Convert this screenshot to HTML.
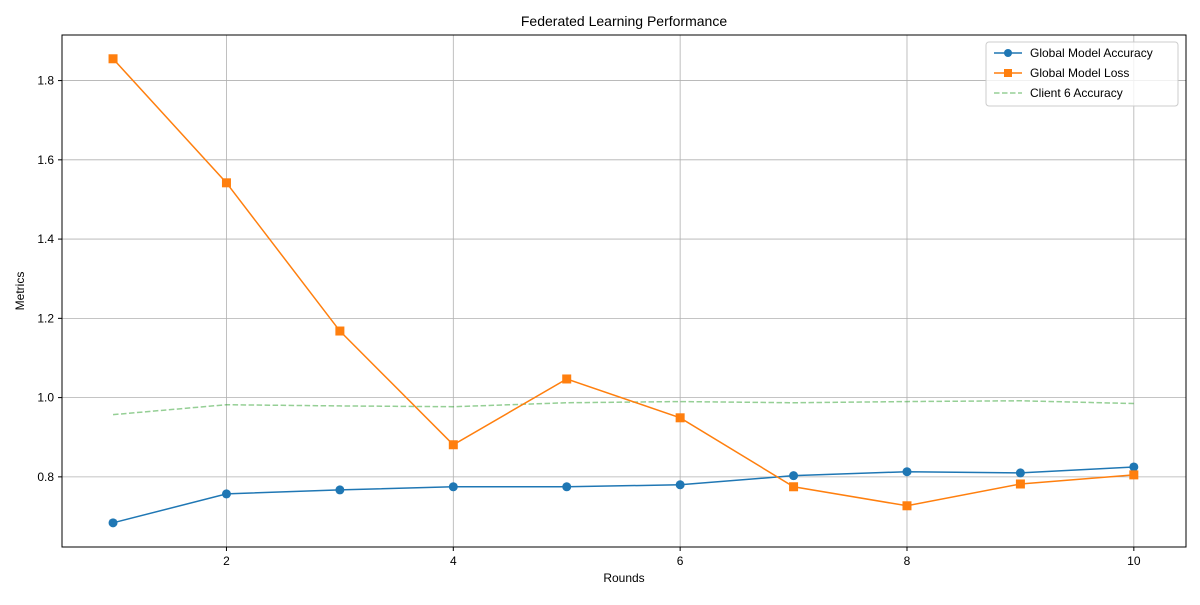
<!DOCTYPE html>
<html><head><meta charset="utf-8"><style>
body{margin:0;background:#fff;font-family:"Liberation Sans",Arial,sans-serif}
svg text{font-family:"Liberation Sans",Arial,sans-serif;fill:#000}
</style></head><body>
<svg id="chart" width="1200" height="600">
<rect width="1200" height="600" fill="#fff"/>
<g id="grid"></g>
<g id="series"></g>
<rect x="62" y="35" width="1124" height="512" fill="none" stroke="#000" stroke-width="1"/>
<g id="axes"></g>
<text x="624" y="26" text-anchor="middle" font-size="14">Federated Learning Performance</text>
<text x="624" y="582" text-anchor="middle" font-size="12">Rounds</text>
<text x="24" y="291" text-anchor="middle" font-size="12" transform="rotate(-90 24 291)">Metrics</text>
<g>
<rect x="986" y="42" width="192" height="64" rx="3" fill="#fff" fill-opacity="0.8" stroke="#ccc"/>
<g>
<line x1="994" y1="53" x2="1022" y2="53" stroke="#1f77b4" stroke-width="1.5"/><circle cx="1008" cy="53" r="4" fill="#1f77b4"/>
<text x="1030" y="57" font-size="12">Global Model Accuracy</text></g>
<g>
<line x1="994" y1="73" x2="1022" y2="73" stroke="#ff7f0e" stroke-width="1.5"/><rect x="1004" y="69" width="8" height="8" fill="#ff7f0e"/>
<text x="1030" y="77" font-size="12">Global Model Loss</text></g>
<g>
<line x1="994" y1="93" x2="1022" y2="93" stroke="#2ca02c" stroke-opacity="0.5" stroke-width="1.5" stroke-dasharray="5.5,2.5"/>
<text x="1030" y="97" font-size="12">Client 6 Accuracy</text></g>
</g>
</svg>
<script>
const rounds=[1,2,3,4,5,6,7,8,9,10];
const accuracy=[0.684,0.757,0.767,0.775,0.775,0.780,0.803,0.813,0.810,0.825];
const loss=[1.855,1.542,1.168,0.881,1.047,0.949,0.775,0.727,0.782,0.805];
const client6=[0.957,0.982,0.979,0.977,0.987,0.990,0.987,0.990,0.992,0.985];
const xTicks=[2,4,6,8,10];
const yTicks=[0.8,1.0,1.2,1.4,1.6,1.8];
const NS="http://www.w3.org/2000/svg";
const L=62,R=1186,T=35,B=547,xmin=0.55,xmax=10.46,ymin=0.623,ymax=1.915;
const xs=v=>L+(v-xmin)/(xmax-xmin)*(R-L);
const ys=v=>B-(v-ymin)/(ymax-ymin)*(B-T);
function mk(tag,attrs,parent){const e=document.createElementNS(NS,tag);for(const k in attrs)e.setAttribute(k,attrs[k]);parent.appendChild(e);return e;}
const grid=document.getElementById('grid'),axes=document.getElementById('axes'),ser=document.getElementById('series');
xTicks.forEach(t=>{const x=xs(t);
const g=mk('line',{x1:x,x2:x,y1:T,y2:B,stroke:'#b0b0b0','stroke-width':0.8},grid);


mk('line',{x1:x,x2:x,y1:B,y2:B+4,stroke:'#000'},axes);
const tx=mk('text',{x:x,y:B+18,'text-anchor':'middle','font-size':12},axes);tx.textContent=t;

});
yTicks.forEach(t=>{const y=ys(t);
const g=mk('line',{x1:L,x2:R,y1:y,y2:y,stroke:'#b0b0b0','stroke-width':0.8},grid);


mk('line',{x1:L-4,x2:L,y1:y,y2:y,stroke:'#000'},axes);
const tx=mk('text',{x:L-8,y:y+4,'text-anchor':'end','font-size':12},axes);tx.textContent=t.toFixed(1);

});
function pts(a){return a.map((v,i)=>xs(rounds[i])+','+ys(v)).join(' ');}
const c6=mk('polyline',{points:pts(client6),fill:'none',stroke:'#2ca02c','stroke-opacity':0.5,'stroke-width':1.5,'stroke-dasharray':'5.5,2.5'},ser);


const al=mk('polyline',{points:pts(accuracy),fill:'none',stroke:'#1f77b4','stroke-width':1.5},ser);


accuracy.forEach((v,i)=>{const c=mk('circle',{cx:xs(rounds[i]),cy:ys(v),r:4.5,fill:'#1f77b4'},ser);

});
const ll=mk('polyline',{points:pts(loss),fill:'none',stroke:'#ff7f0e','stroke-width':1.5},ser);


loss.forEach((v,i)=>{const s=mk('rect',{x:xs(rounds[i])-4.5,y:ys(v)-4.5,width:9,height:9,fill:'#ff7f0e'},ser);

});
</script>
</body></html>
